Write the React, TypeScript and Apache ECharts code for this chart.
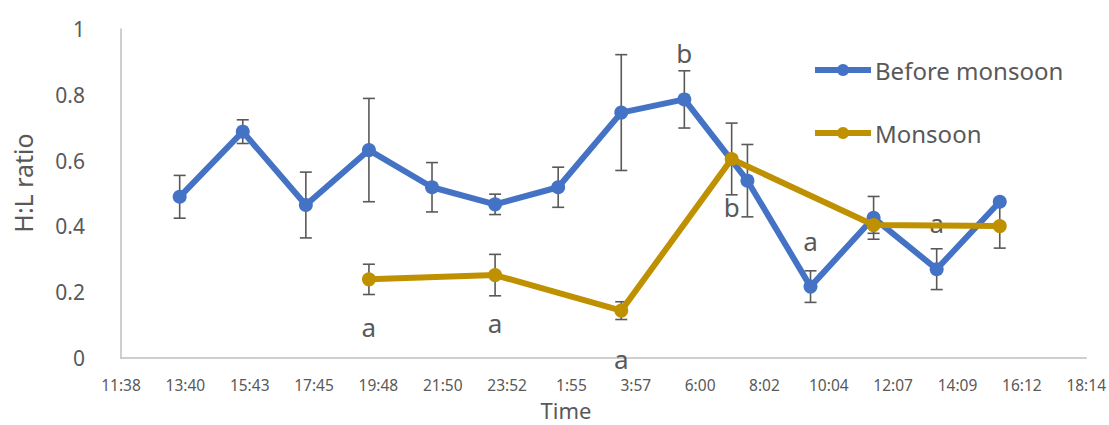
import React, { useEffect, useRef } from "react";
import * as echarts from "echarts";

// Sampling times (clock time, in order; wraps past midnight)
const beforeTimes = ["13:30", "15:30", "17:30", "19:30", "21:30", "23:30", "1:30", "3:30", "5:30", "7:30", "9:30", "11:30", "13:30", "15:30"];
const beforeValues = [0.49, 0.688, 0.465, 0.632, 0.519, 0.467, 0.519, 0.746, 0.786, 0.539, 0.217, 0.426, 0.27, 0.475];
const beforeErrors = [0.065, 0.036, 0.1, 0.157, 0.075, 0.031, 0.061, 0.176, 0.087, 0.11, 0.048, 0.065, 0.062, 0];
const beforeLetters = ["", "", "", "", "", "", "", "", "b", "", "a", "", "a", ""];

const monsoonTimes = ["19:30", "23:30", "3:30", "7:00", "11:30", "15:30"];
const monsoonValues = [0.239, 0.252, 0.144, 0.605, 0.404, 0.401];
const monsoonErrors = [0.046, 0.063, 0.027, 0.109, 0.025, 0.067];
const monsoonLetters = ["a", "a", "a", "b", "", ""];

// Axis origin 11:38.4 (0.485 day), major unit 0.085 day = 122.4 min; x in tenths of a minute
const axisOriginMin = 698.4;
const majorUnit = 1224;
const tickCount = 15;

const FONT = "Noto Sans";
const TEXT = "#595959";
const BLUE = "#4472C4";
const GOLD = "#BF9000";

function toAxisX(times: string[]): number[] {
  let prev = -Infinity;
  let day = 0;
  return times.map((t) => {
    const [h, m] = t.split(":").map(Number);
    let mins = h * 60 + m + day * 1440;
    if (mins < prev) {
      day += 1;
      mins += 1440;
    }
    prev = mins;
    return (mins - axisOriginMin) * 10;
  });
}

function formatTick(v: number): string {
  const total = Math.floor(v / 10 + axisOriginMin + 1e-6) % 1440;
  const h = Math.floor(total / 60);
  const m = total % 60;
  return `${h}:${m < 10 ? "0" + m : m}`;
}

function lineData(xs: number[], ys: number[], letters: string[], above: boolean) {
  return xs.map((x, i) => {
    const item: any = { value: [x, ys[i]] };
    if (letters[i]) {
      item.label = {
        show: true,
        formatter: letters[i],
        position: "inside",
        offset: [0, above ? -46 : 48],
        fontSize: 26,
        fontFamily: FONT,
        color: TEXT,
      };
    }
    return item;
  });
}

function errorSeries(name: string, xs: number[], ys: number[], errs: number[]) {
  return {
    type: "custom",
    name,
    z: 1,
    silent: true,
    encode: { x: 0, y: [1, 2] },
    data: xs.map((x, i) => [x, ys[i] - errs[i], ys[i] + errs[i]]),
    renderItem: (_params: any, api: any) => {
      const lo = api.coord([api.value(0), api.value(1)]);
      const hi = api.coord([api.value(0), api.value(2)]);
      const cap = 6;
      const style = { stroke: TEXT, lineWidth: 1.6 };
      return {
        type: "group",
        children: [
          { type: "line", shape: { x1: lo[0], y1: lo[1], x2: hi[0], y2: hi[1] }, style },
          { type: "line", shape: { x1: lo[0] - cap, y1: lo[1], x2: lo[0] + cap, y2: lo[1] }, style },
          { type: "line", shape: { x1: hi[0] - cap, y1: hi[1], x2: hi[0] + cap, y2: hi[1] }, style },
        ],
      };
    },
  };
}

export default function App() {
  const ref = useRef<HTMLDivElement>(null);

  useEffect(() => {
    if (!ref.current) return;
    const chart = echarts.init(ref.current, undefined, { renderer: "svg" });

    const bx = toAxisX(beforeTimes);
    const mx = toAxisX(monsoonTimes);

    chart.setOption({
      animation: false,
      backgroundColor: "#ffffff",
      textStyle: { fontFamily: FONT },
      grid: { left: 121, top: 29, right: 22, bottom: 67 },
      legend: {
        data: ["Before monsoon", "Monsoon"],
        orient: "vertical",
        left: 812,
        top: 58,
        padding: 0,
        itemWidth: 56,
        itemHeight: 15,
        itemGap: 39,
        lineStyle: { width: 6 },
        textStyle: { fontSize: 24, lineHeight: 24, color: TEXT, fontFamily: FONT, padding: [0, 0, 0, -1] },
      },
      xAxis: {
        type: "value",
        min: 0,
        max: majorUnit * tickCount,
        interval: majorUnit,
        splitLine: { show: false },
        axisTick: { show: false },
        axisLine: { show: true, lineStyle: { color: "#BFBFBF", width: 1.5 } },
        axisLabel: {
          formatter: formatTick,
          fontSize: 15.5,
          color: TEXT,
          fontFamily: FONT,
          margin: 19,
          showMaxLabel: true,
          showMinLabel: true,
        },
      },
      yAxis: {
        type: "value",
        min: 0,
        max: 1,
        interval: 0.2,
        splitLine: { show: false },
        axisTick: { show: false },
        axisLine: { show: true, lineStyle: { color: "#BFBFBF", width: 1.5 } },
        axisLabel: { fontSize: 21, color: TEXT, fontFamily: FONT, margin: 36 },
      },
      graphic: [
        {
          type: "text",
          x: 23,
          y: 183,
          rotation: Math.PI / 2,
          style: {
            text: "H:L ratio",
            fontSize: 25,
            fontFamily: FONT,
            fill: TEXT,
            align: "center",
            verticalAlign: "middle",
          },
        },
        {
          type: "text",
          x: 566,
          y: 410,
          style: {
            text: "Time",
            fontSize: 22,
            fontFamily: FONT,
            fill: TEXT,
            align: "center",
            verticalAlign: "middle",
          },
        },
      ],
      series: [
        errorSeries("Before monsoon error", bx, beforeValues, beforeErrors),
        errorSeries("Monsoon error", mx, monsoonValues, monsoonErrors),
        {
          type: "line",
          name: "Before monsoon",
          z: 3,
          symbol: "circle",
          symbolSize: 14,
          color: BLUE,
          lineStyle: { width: 6, color: BLUE },
          itemStyle: { color: BLUE },
          data: lineData(bx, beforeValues, beforeLetters, true),
        },
        {
          type: "line",
          name: "Monsoon",
          z: 4,
          symbol: "circle",
          symbolSize: 14,
          color: GOLD,
          lineStyle: { width: 6, color: GOLD },
          itemStyle: { color: GOLD },
          data: lineData(mx, monsoonValues, monsoonLetters, false),
        },
      ],
    });

    return () => chart.dispose();
  }, []);

  return (
    <div
      ref={ref}
      style={{ position: "fixed", left: 0, top: 0, width: 1109, height: 425 }}
    />
  );
}
